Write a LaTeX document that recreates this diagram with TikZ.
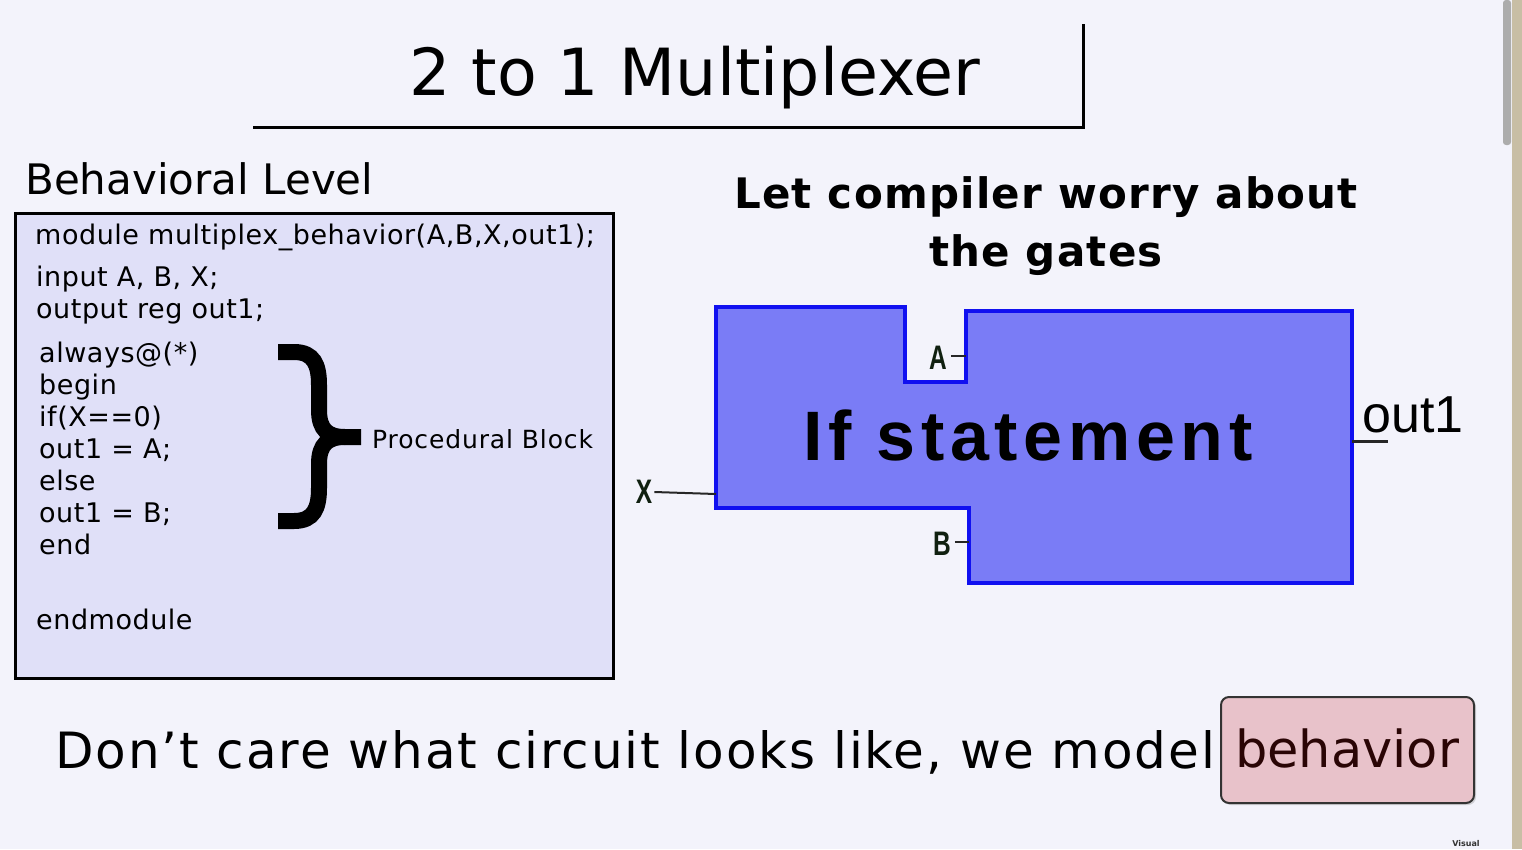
\documentclass[tikz,border=0pt]{standalone}
\usepackage{fontspec}
\setmainfont{DejaVu Sans}
\newfontfamily\codesf[LetterSpace=2]{DejaVu Sans}
\newfontfamily\procsf[LetterSpace=3.5]{DejaVu Sans}
\newfontfamily\boldsp[LetterSpace=3]{DejaVu Sans Bold}
\newfontfamily\bottomsp[LetterSpace=3.8]{DejaVu Sans}
\newfontfamily\ifsf[LetterSpace=8]{Liberation Sans Bold}
\newfontfamily\pinsf{Liberation Sans Bold}
\newfontfamily\outsf{Liberation Sans}
\usetikzlibrary{shadows}
\definecolor{bgc}{HTML}{F3F3FB}
\definecolor{codebg}{HTML}{E0E0F8}
\definecolor{blockfill}{HTML}{7A7CF6}
\definecolor{blockline}{HTML}{1010F0}
\definecolor{pinkfill}{HTML}{E8C2CA}
\definecolor{maroon}{HTML}{2A0505}
\definecolor{pinc}{HTML}{102010}
\tikzset{
  codeline/.style={anchor=base west, inner sep=0pt, font=\codesf\fontsize{27}{27}\selectfont},
  pinlabel/.style={anchor=base, inner sep=0pt, text=pinc, font=\pinsf\fontsize{34}{34}\selectfont, xscale=0.72},
  wire/.style={line width=2pt, draw=black!85},
}
\begin{document}
\begin{tikzpicture}[x=1pt,y=-1pt]
\useasboundingbox (0,0) rectangle (1522,849);
\fill[bgc] (0,0) rectangle (1522,849);
\fill[color={rgb,255:red,200;green,190;blue,165}] (1512,0) rectangle (1522,849);
\fill[gray!65, rounded corners=3pt] (1503,0) rectangle (1511,145);

% title
\node[anchor=base, inner sep=0pt, font=\fontsize{65}{65}\selectfont] (title) at (695,95) {2 to 1 Multiplexer};
\draw[line width=3pt] (253,127) -- (1083,127) -- (1083,24);

% behavioral level
\node[anchor=base west, inner sep=0pt, font=\fontsize{42}{42}\selectfont] (beh) at (25,194) {Behavioral Level};
\draw[line width=3pt, fill=codebg] (15,213) rectangle (613,678);
\node[codeline] (l1) at (35,244) {module multiplex\_behavior(A,B,X,out1);};
\node[codeline] (l2) at (36,286) {input A, B, X;};
\node[codeline] (l3) at (36,318) {output reg out1;};
\node[codeline] (l4) at (39,362) {always@(*)};
\node[codeline] (l5) at (39,394) {begin};
\node[codeline] (l6) at (39,426) {if(X==0)};
\node[codeline] (l7) at (39,458) {out1 = A;};
\node[codeline] (l8) at (39,490) {else};
\node[codeline] (l9) at (39,522) {out1 = B;};
\node[codeline] (l10) at (39,554) {end};
\node[codeline] (l11) at (36,629) {endmodule};

% brace
\draw[line width=16pt] (278,352) -- (294,352) .. controls (314,352) and (319,365) .. (319,385) -- (319,410)
  .. controls (319,430) and (328,437) .. (345,437) -- (361,437);
\draw[line width=16pt] (278,521) -- (294,521) .. controls (314,521) and (319,508) .. (319,488) -- (319,464)
  .. controls (319,444) and (328,437) .. (345,437);
\node[anchor=base west, inner sep=0pt, font=\procsf\fontsize{25}{25}\selectfont] (proc) at (372,448) {Procedural Block};

% right heading
\node[anchor=base, inner sep=0pt, font=\boldsp\fontsize{42}{42}\selectfont] (h1) at (1046,208) {Let compiler worry about};
\node[anchor=base, inner sep=0pt, font=\boldsp\fontsize{42}{42}\selectfont] (h2) at (1046,266) {the gates};

% block
\draw[line width=4pt, draw=blockline, fill=blockfill]
  (716,307) -- (905,307) -- (905,382) -- (966,382) -- (966,311) -- (1352,311)
  -- (1352,583) -- (969,583) -- (969,508) -- (716,508) -- cycle;
\node[anchor=base, inner sep=0pt, font=\ifsf\fontsize{70}{70}\selectfont] (ifst) at (1028,460) {If statement};

% pins
\coordinate (ain) at (966,356);
\coordinate (bin) at (969,542);
\coordinate (xin) at (716,494);
\coordinate (oout) at (1352,441);
\coordinate (oend) at (1388,441);
\node[pinlabel] (A) at (938,369) {A};
\node[pinlabel] (B) at (942,555) {B};
\node[pinlabel] (X) at (644,503) {X};
\draw[wire] ([xshift=4pt]A.east |- ain) -- (ain);
\draw[wire] ([xshift=4pt]B.east |- bin) -- (bin);
\draw[wire] ([xshift=2pt]X.east |- xin) ++(0,-2) -- (xin);
\draw[wire, line width=3pt] (oout) -- (oend);
\node[anchor=base west, inner sep=0pt, font=\outsf\fontsize{52}{52}\selectfont] (out) at (1362,432) {out1};

% bottom
\node[anchor=base west, inner sep=0pt, font=\bottomsp\fontsize{50}{50}\selectfont] (bot) at (55,768) {Don’t care what circuit looks like, we model};
\node[draw=black!80, line width=2pt, fill=pinkfill, rounded corners=8pt, drop shadow={shadow xshift=2pt, shadow yshift=-2pt, opacity=0.3},
  minimum width=253pt, minimum height=106pt, inner sep=0pt] (bbox) at (1347.5,750) {};
\node[anchor=base, inner sep=0pt, text=maroon, font=\fontsize{51}{51}\selectfont] (behv) at (1347,767) {behavior};
\node[font=\bfseries\fontsize{8}{8}\selectfont, inner sep=0pt, text=black!80] (vis) at (1466,844) {Visual};
\end{tikzpicture}
\end{document}
